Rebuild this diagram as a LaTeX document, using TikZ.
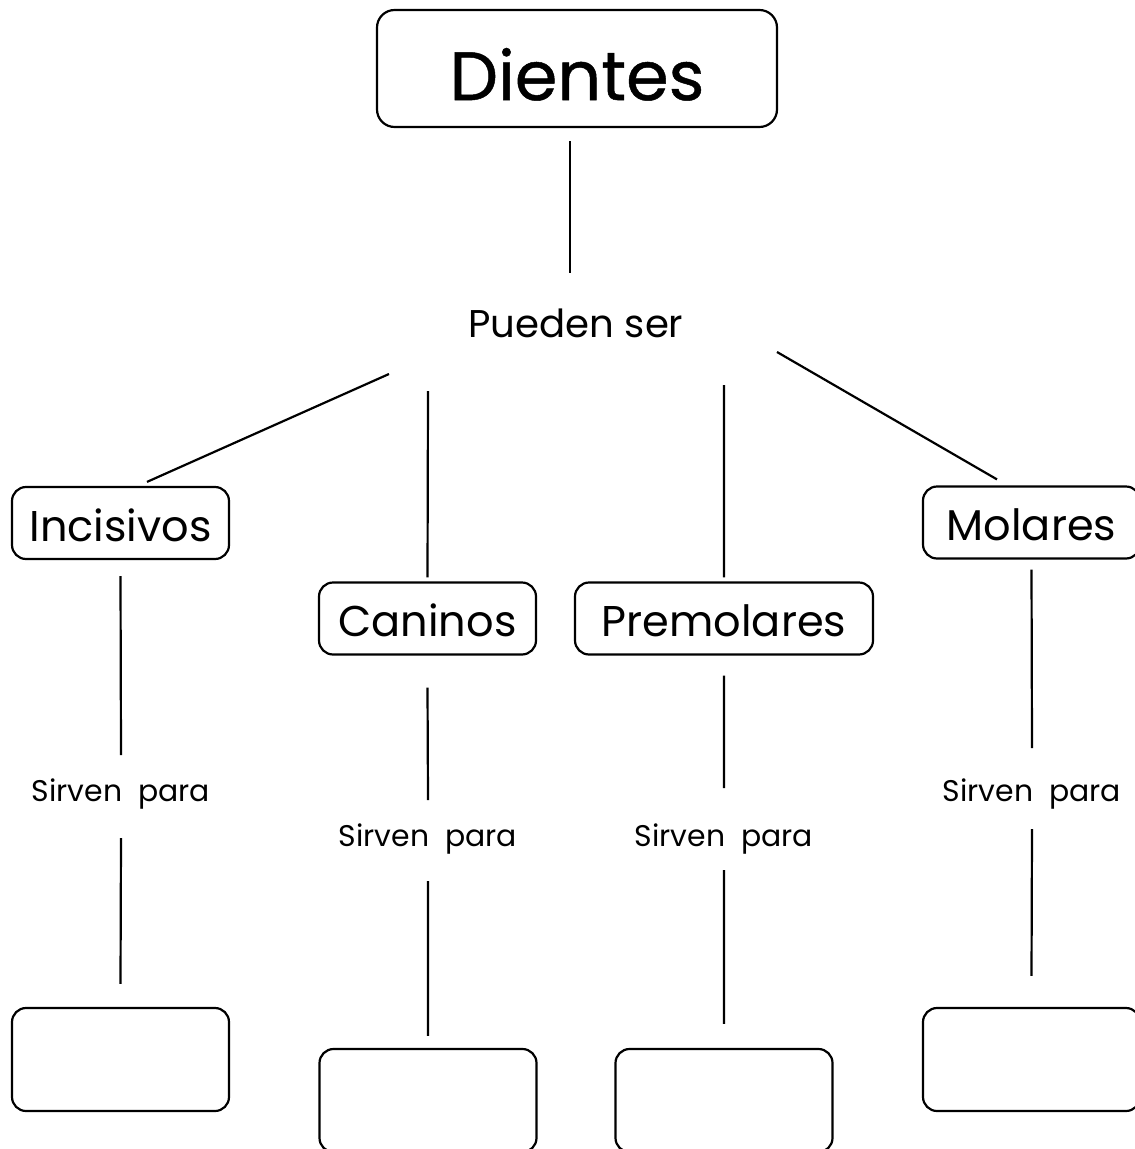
\documentclass[tikz,border=0pt]{standalone}
\usepackage{fontspec}
\setmainfont{Poppins}
\newfontfamily\titlefont{Poppins}[BoldFont=Poppins, BoldFeatures={FakeBold=0.7}]

\begin{document}
\begin{tikzpicture}[x=0.02cm, y=-0.02cm,
        box/.style={draw, line width=1.25pt, rounded corners=8pt, inner sep=0pt,
            text depth=0pt, minimum width=217*0.02cm},
        kind/.style={box, font=\fontsize{24.5}{29}\selectfont, text height=21pt,
            minimum height=72*0.02cm},
        answer/.style={box, minimum height=103*0.02cm},
        verb/.style={anchor=base, inner sep=0pt, font=\fontsize{17}{20}\selectfont},
        link/.style={line width=1.25pt}]

        \clip (0,0) rectangle (1135,1149);

        % title and first verb
        \node[box, font=\fontsize{39}{46}\titlefont\bfseries, text height=36pt,
            minimum width=400*0.02cm, minimum height=117*0.02cm, rounded corners=10pt]
            (dientes) at (577,68.5) {Dientes};
        \node[verb, font=\fontsize{22}{26}\selectfont] (pueden) at (576,337) {Pueden ser};

        % kinds of teeth
        \node[kind] (incisivos) at (120.5,523) {Incisivos};
        \node[kind] (caninos) at (427.5,618.5) {Caninos};
        \node[kind, minimum width=298*0.02cm] (premolares) at (724,618.5) {Premolares};
        \node[kind] (molares) at (1031.5,522.5) {Molares};

        % what they are for
        \node[verb] (sirvenA) at (121,801) {Sirven\ \ para};
        \node[verb] (sirvenB) at (428,846) {Sirven\ \ para};
        \node[verb] (sirvenC) at (724,846) {Sirven\ \ para};
        \node[verb] (sirvenD) at (1032,801) {Sirven\ \ para};

        % empty answer boxes
        \node[answer] (boxA) at (120.5,1059.5) {};
        \node[answer] (boxB) at (428,1100.5) {};
        \node[answer] (boxC) at (724,1100.5) {};
        \node[answer] (boxD) at (1031.5,1059.5) {};

        \draw[link]
            ([shift={(-7,13)}]dientes.south) -- ([shift={(-6,-64)}]pueden.base);

        \draw[link]
            ([shift={(-187,37)}]pueden.base) -- ([shift={(26.5,-4)}]incisivos.north)
            ([shift={(-148,54)}]pueden.base) -- ([shift={(0,-4)}]caninos.north)
            ([shift={(148,48)}]pueden.base) -- ([shift={(0,-4)}]premolares.north)
            ([shift={(201,15)}]pueden.base) -- ([shift={(-34.5,-6)}]molares.north);

        \draw[link]
            ([shift={(0,16)}]incisivos.south) -- ([shift={(0,-46)}]sirvenA.base)
            ([shift={(0,37)}]sirvenA.base) -- ([shift={(0,-23)}]boxA.north)
            ([shift={(0,32)}]caninos.south) -- ([shift={(0,-46)}]sirvenB.base)
            ([shift={(0,35)}]sirvenB.base) -- ([shift={(0,-12)}]boxB.north)
            ([shift={(0,20)}]premolares.south) -- ([shift={(0,-58)}]sirvenC.base)
            ([shift={(0,24)}]sirvenC.base) -- ([shift={(0,-24)}]boxC.north)
            ([shift={(0,10)}]molares.south) -- ([shift={(0,-53)}]sirvenD.base)
            ([shift={(0,28)}]sirvenD.base) -- ([shift={(0,-31)}]boxD.north);

\end{tikzpicture}
\end{document}
